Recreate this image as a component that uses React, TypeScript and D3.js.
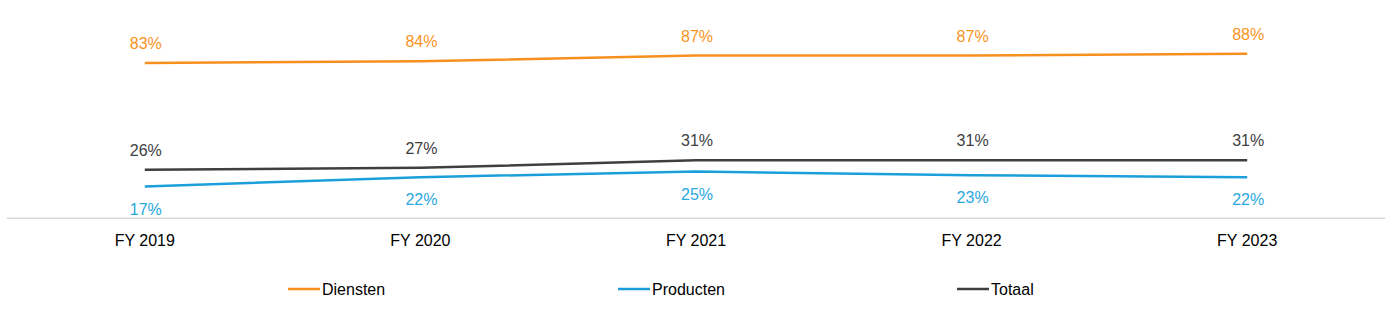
import React from "react";
import * as d3 from "d3";

const categories = ["FY 2019", "FY 2020", "FY 2021", "FY 2022", "FY 2023"];
const diensten = [83, 84, 87, 87, 88];
const producten = [17, 22, 25, 23, 22];
const totaal = [26, 27, 31, 31, 31];

const seriesNames = ["Diensten", "Producten", "Totaal"];

const W = 1400;
const H = 319;

export default function App() {
  const x = d3.scalePoint<string>().domain(categories).range([7, 1385]).padding(0.5);
  const y = d3.scaleLinear().domain([0, 100]).range([218.3, 31.3]);
  const line = d3
    .line<number>()
    .x((_, i) => x(categories[i]) as number)
    .y((d) => y(d));

  const series = [
    { name: seriesNames[0], values: diensten, color: "#F7901E", label: "#F7941D", dy: -14 },
    { name: seriesNames[1], values: producten, color: "#1B9FDB", label: "#29A8E0", dy: 28 },
    { name: seriesNames[2], values: totaal, color: "#3F3F3F", label: "#404040", dy: -14 },
  ];

  const legendX = [288, 618, 957];
  const font = "Arial, 'Liberation Sans', sans-serif";

  return (
    <svg
      width={W}
      height={H}
      style={{ position: "absolute", left: 0, top: 0, background: "#fff" }}
      fontFamily={font}
    >
      <line x1={7} x2={1385} y1={218.3} y2={218.3} stroke="#D9D9D9" strokeWidth={1.5} />
      {categories.map((c) => (
        <text key={c} x={x(c)} y={246} textAnchor="middle" fontSize={16} fill="#000">
          {c}
        </text>
      ))}
      {series.map((s) => (
        <g key={s.name}>
          <path d={line(s.values) || ""} fill="none" stroke={s.color} strokeWidth={2.5} />
          {s.values.map((v, i) => (
            <text
              key={i}
              x={(x(categories[i]) as number) + 1}
              y={y(v) + s.dy}
              textAnchor="middle"
              fontSize={16}
              fill={s.label}
            >
              {`${v}%`}
            </text>
          ))}
        </g>
      ))}
      {series.map((s, i) => (
        <g key={s.name} transform={`translate(${legendX[i]},289)`}>
          <line x1={0} x2={32} y1={0} y2={0} stroke={s.color} strokeWidth={2.5} />
          <text x={34} y={6} fontSize={16} fill="#000">
            {s.name}
          </text>
        </g>
      ))}
    </svg>
  );
}
